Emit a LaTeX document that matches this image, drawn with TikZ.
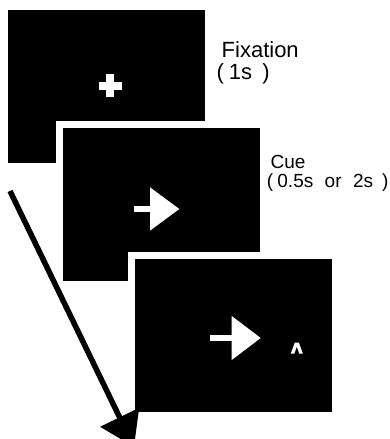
\documentclass[tikz,border=0pt]{standalone}
\usepackage{fontspec}
\setmainfont{Liberation Sans}
\usetikzlibrary{arrows.meta}
\newcommand{\wsp}{\hspace{0.6em}}
\newcommand{\lpar}{(\hspace{0.22em}}
\newcommand{\rpar}{\hspace{0.47em})}
\begin{document}
\begin{tikzpicture}[x=1pt,y=-1pt,
  screen/.style={fill=black, draw=white, line width=7pt, minimum width=204pt, minimum height=160pt, inner sep=0pt},
  glyph/.style={fill=white},
  biglbl/.style={anchor=base west, inner sep=0pt, font=\fontsize{22}{22}\selectfont},
  smalllbl/.style={anchor=base west, inner sep=0pt, font=\fontsize{19}{19}\selectfont},
  timeline/.style={line width=5.5pt, -{Triangle[length=33pt, width=42pt]}},
]
\useasboundingbox (0,0) rectangle (390,439);
\clip (0,0) rectangle (390,439);
\fill[white] (0,0) rectangle (390,439);

% screens
\node[screen] (s1) at (106,86) {};
\node[screen] (s2) at (161.5,204.5) {};
\node[screen] (s3) at (233,335) {};

% fixation cross
\fill[glyph] (98.5,81.5) rectangle (121.5,89.5);
\fill[glyph] (106,74) rectangle (114,97);

% cue arrow
\fill[glyph] (134.3,205.7) rectangle (151,211.7);
\fill[glyph] (150,187.3) -- (179.3,209) -- (150,230.7) -- cycle;

% target arrow and caret
\fill[glyph] (210,335) rectangle (232.7,340.7);
\fill[glyph] (231.7,316) -- (260.7,338) -- (231.7,360) -- cycle;
\fill[glyph] (290.8,353.5) -- (294.8,342.5) -- (298.8,342.5) -- (302.8,353.5) -- (299.2,353.5) -- (296.8,346.5) -- (294.4,353.5) -- cycle;

% labels
\node[biglbl] (fix) at (221.5,57.7) {Fixation};
\node[biglbl] (fixt) at (216.5,79.3) {\lpar 1s\rpar};
\node[smalllbl] (cue) at (270.5,168.7) {Cue};
\node[smalllbl] (cuet) at (266.7,187.3) {\lpar 0.5s\wsp or\wsp 2s\rpar};

% time arrow
\coordinate (t0) at (10,191);
\coordinate (t1) at (134,447);
\draw[timeline] (t0) -- (t1);
\end{tikzpicture}
\end{document}
